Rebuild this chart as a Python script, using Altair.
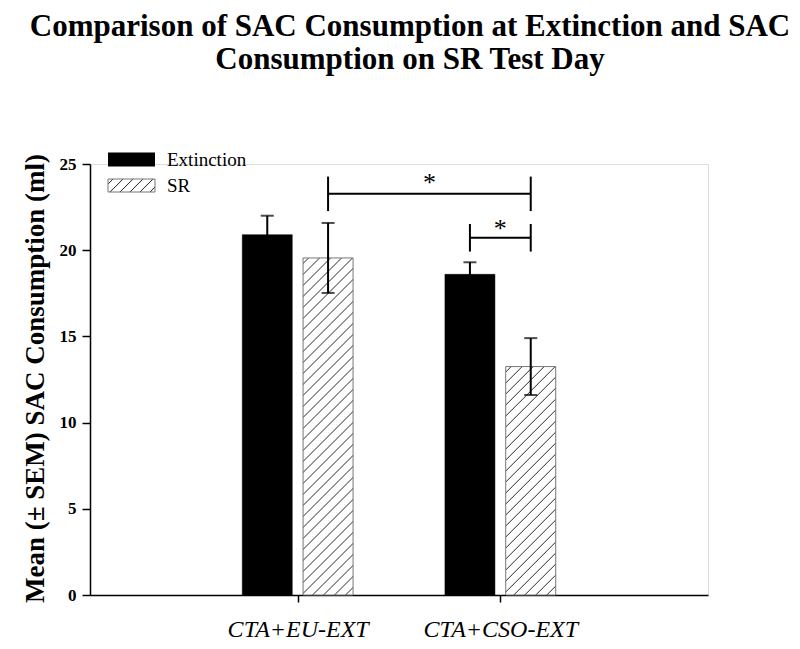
import json
import altair as alt
import pandas as pd

# ---------------- data ----------------
groups = ["CTA+EU-EXT", "CTA+CSO-EXT"]
series = ["Extinction", "SR"]
ext_mean = [20.9, 18.6]
ext_sem = [1.1, 0.7]
sr_mean = [19.55, 13.25]
sr_sem = [2.03, 1.65]

# significance brackets
br_from_group = ["CTA+EU-EXT", "CTA+CSO-EXT"]
br_from_series = ["SR", "Extinction"]
br_to_group = ["CTA+CSO-EXT", "CTA+CSO-EXT"]
br_to_series = ["SR", "SR"]
br_level = [23.27, 20.72]
br_half = [1.0, 0.8]
br_label = ["*", "*"]

y_ticks = [0, 5, 10, 15, 20, 25]
title_lines = ["Comparison of SAC Consumption at Extinction and SAC",
               "Consumption on SR Test Day"]
y_title = "Mean (\u00b1 SEM) SAC Consumption (ml)"

# ---------------- layout ----------------
W, H = 618, 431
YMAX = 25
FONT = "Liberation Serif"
OFF = 0.15

rows = []
for g, m, s in zip(groups, ext_mean, ext_sem):
    rows.append({"group": g, "series": "Extinction", "mean": m, "sem": s})
for g, m, s in zip(groups, sr_mean, sr_sem):
    rows.append({"group": g, "series": "SR", "mean": m, "sem": s})
df = pd.DataFrame(rows)

gexpr = json.dumps(groups)
pos_expr = f"indexof({gexpr}, datum.group) + 1 + (datum.series == 'SR' ? {OFF} : -{OFF})"

bdf = pd.DataFrame({
    "g1": br_from_group, "s1": br_from_series,
    "g2": br_to_group, "s2": br_to_series,
    "level": br_level, "half": br_half, "label": br_label,
})
x1_expr = f"indexof({gexpr}, datum.g1) + 1 + (datum.s1 == 'SR' ? {OFF} : -{OFF})"
x2_expr = f"indexof({gexpr}, datum.g2) + 1 + (datum.s2 == 'SR' ? {OFF} : -{OFF})"

xscale = alt.Scale(domain=[0, len(groups) + 1], nice=False, zero=False)
yscale = alt.Scale(domain=[0, YMAX], nice=False)

label_expr = " : ".join(
    [f"datum.value == {i+1} ? '{g}'" for i, g in enumerate(groups)]) + " : ''"

xaxis = alt.Axis(values=list(range(1, len(groups) + 1)), labelExpr=label_expr,
                 title=None, grid=False, tickSize=7, tickWidth=1.5, tickColor="black",
                 domainColor="black", domainWidth=1.5, labelFont=FONT,
                 labelFontStyle="italic", labelFontSize=24, labelColor="black",
                 labelBaseline="alphabetic", labelPadding=34, labelFlush=False,
                 labelOverlap=False)
yaxis = alt.Axis(values=y_ticks, grid=False, tickSize=8, tickWidth=1.5, tickColor="black",
                 domainColor="black", domainWidth=1.5, labelFont=FONT, labelFontSize=17,
                 labelFontWeight="bold", labelColor="black", labelPadding=6,
                 title=y_title, titleFont=FONT, titleFontSize=27, titleFontWeight="bold",
                 titleColor="black", titleAngle=270, titleAlign="center",
                 titleBaseline="alphabetic", titleX=-47, titleY=214)


def hatch(w, h, s=11.0, color="#3a3a3a"):
    L = w + h
    k = L * w / (w * w + h * h)
    stops = [alt.GradientStop(offset=0, color="white")]
    c = s / 2.0
    while c + 1.2 < L:
        stops.append(alt.GradientStop(offset=round((c - 1.1) / L, 5), color="white"))
        stops.append(alt.GradientStop(offset=round(c / L, 5), color=color))
        stops.append(alt.GradientStop(offset=round((c + 1.1) / L, 5), color="white"))
        c += s
    stops.append(alt.GradientStop(offset=1, color="white"))
    return alt.Gradient(gradient="linear", x1=0, y1=0, x2=k, y2=k * h / w, stops=stops)


base = alt.Chart(df).transform_calculate(xpos=pos_expr,
                                         lo="datum.mean - datum.sem",
                                         hi="datum.mean + datum.sem")

X = alt.X("xpos:Q", scale=xscale, axis=xaxis)

ext_bars = base.transform_filter("datum.series == 'Extinction'").mark_bar(
    size=50, fill="black", stroke="black", strokeWidth=0.5
).encode(x=X, y=alt.Y("mean:Q", scale=yscale, axis=yaxis, stack=None))

layers = [ext_bars]
for g, m in zip(groups, sr_mean):
    hpx = m * H / YMAX
    layers.append(
        base.transform_filter(f"datum.series == 'SR' && datum.group == '{g}'").mark_bar(
            size=50, fill=hatch(50, hpx), stroke="#777777", strokeWidth=1
        ).encode(x=alt.X("xpos:Q", scale=xscale), y=alt.Y("mean:Q", scale=yscale, stack=None))
    )

err_rule = base.mark_rule(color="black", strokeWidth=2).encode(
    x=alt.X("xpos:Q", scale=xscale), y=alt.Y("lo:Q", scale=yscale), y2="hi:Q")
cap_hi = base.mark_tick(orient="horizontal", size=13, thickness=2, color="black").encode(
    x=alt.X("xpos:Q", scale=xscale), y=alt.Y("hi:Q", scale=yscale))
cap_lo = base.mark_tick(orient="horizontal", size=13, thickness=2, color="black").encode(
    x=alt.X("xpos:Q", scale=xscale), y=alt.Y("lo:Q", scale=yscale))
layers += [err_rule, cap_hi, cap_lo]

bbase = alt.Chart(bdf).transform_calculate(
    bx1=x1_expr, bx2=x2_expr, bmid="(datum.bx1 + datum.bx2) / 2",
    blo="datum.level - datum.half", bhi="datum.level + datum.half",
    star="datum.level + datum.half * 0.55")
br_h = bbase.mark_rule(color="black", strokeWidth=2).encode(
    x=alt.X("bx1:Q", scale=xscale), x2="bx2:Q", y=alt.Y("level:Q", scale=yscale))
br_l = bbase.mark_rule(color="black", strokeWidth=2).encode(
    x=alt.X("bx1:Q", scale=xscale), y=alt.Y("blo:Q", scale=yscale), y2="bhi:Q")
br_r = bbase.mark_rule(color="black", strokeWidth=2).encode(
    x=alt.X("bx2:Q", scale=xscale), y=alt.Y("blo:Q", scale=yscale), y2="bhi:Q")
br_t = bbase.mark_text(font=FONT, fontSize=26, color="black", baseline="middle",
                       align="center", dy=-1).encode(
    x=alt.X("bmid:Q", scale=xscale), y=alt.Y("star:Q", scale=yscale), text="label:N")
layers += [br_h, br_l, br_r, br_t]

# legend (drawn manually so the SR swatch can be hatched)
leg_ext = alt.Chart(pd.DataFrame({"label": [series[0]]}))
leg_sr = alt.Chart(pd.DataFrame({"label": [series[1]]}))
layers += [
    leg_ext.mark_rect(fill="black").encode(
        x=alt.value(18), x2=alt.value(65), y=alt.value(-11.5), y2=alt.value(2.5)),
    leg_sr.mark_rect(fill=hatch(47, 13, s=10.0), stroke="#777777", strokeWidth=1).encode(
        x=alt.value(18), x2=alt.value(65), y=alt.value(15), y2=alt.value(28)),
    leg_ext.mark_text(font=FONT, fontSize=19, color="black", align="left",
                      baseline="middle").encode(
        x=alt.value(77), y=alt.value(-4), text="label:N"),
    leg_sr.mark_text(font=FONT, fontSize=19, color="black", align="left",
                     baseline="middle").encode(
        x=alt.value(77), y=alt.value(21.5), text="label:N"),
]

chart = alt.layer(*layers).properties(
    width=W, height=H,
    title=alt.TitleParams(text=title_lines, font=FONT, fontSize=31, fontWeight="bold",
                          color="black", anchor="middle", lineHeight=33, offset=75, dx=11),
    autosize=alt.AutoSizeParams(type="none"),
    padding={"left": 82, "top": 156, "right": 84, "bottom": 50},
).configure_view(stroke=None).configure(background="white")

chart.save("out.html", embed_options={"renderer": "svg", "actions": False})
